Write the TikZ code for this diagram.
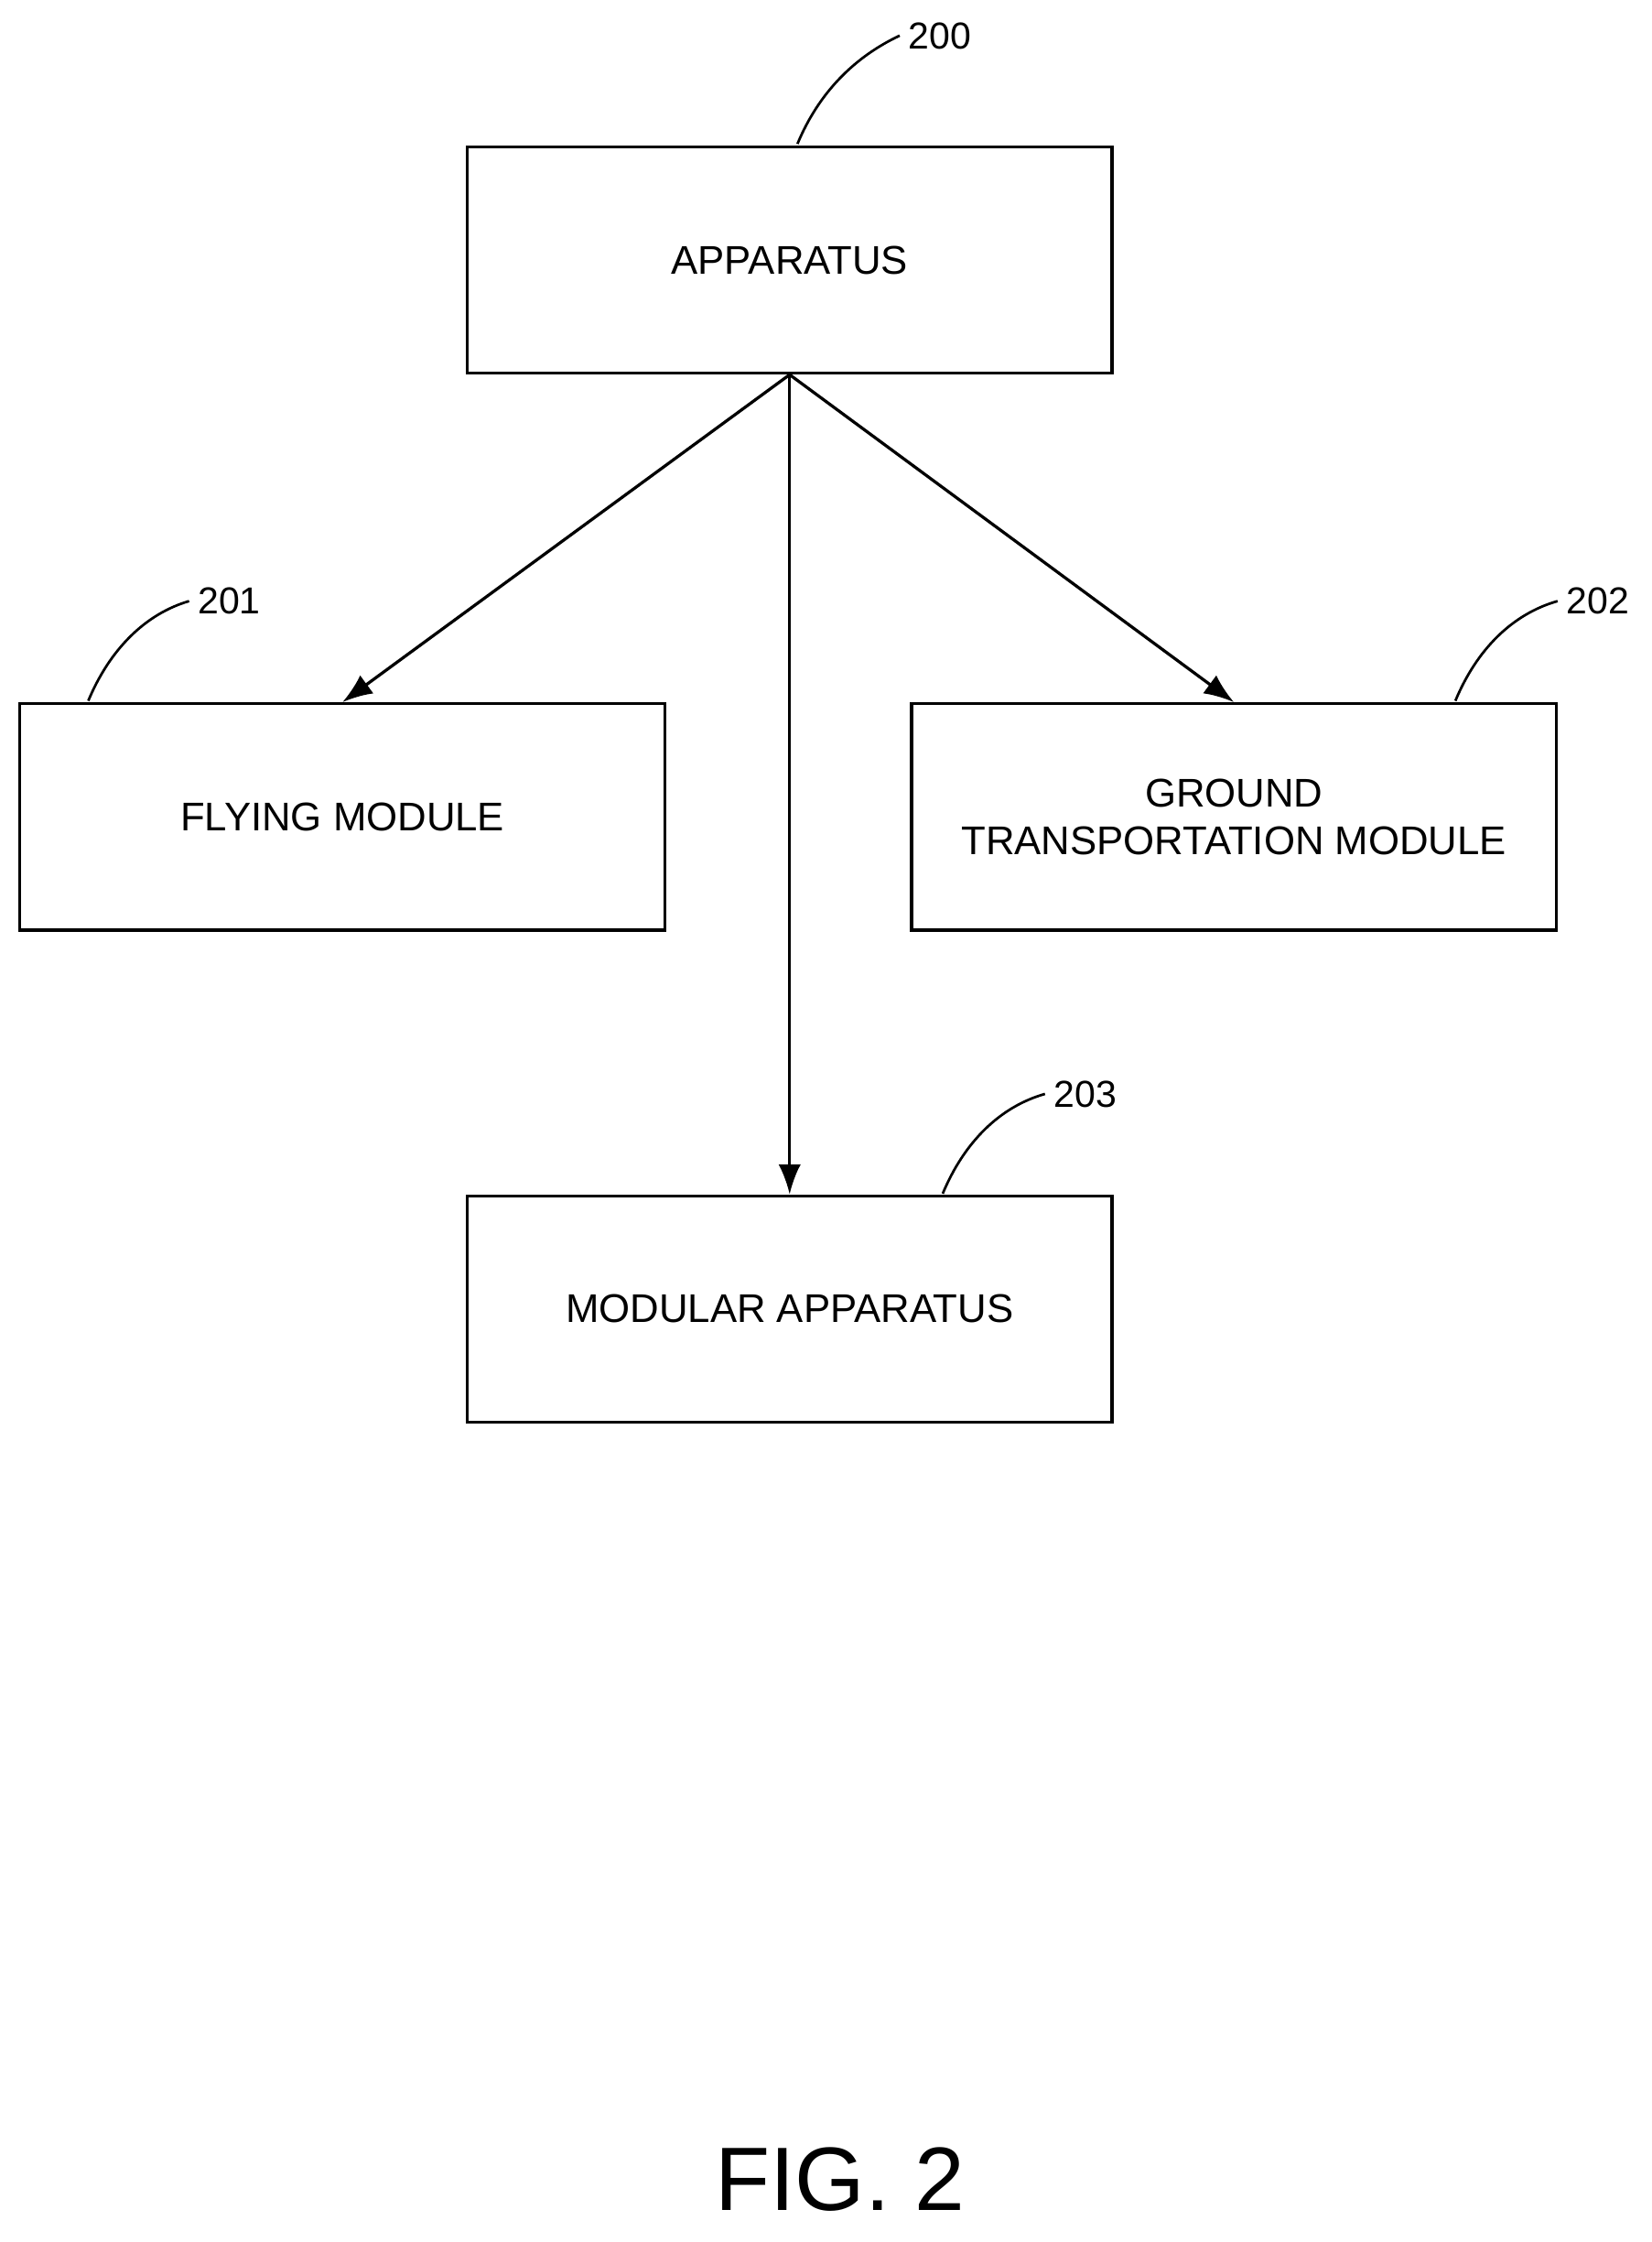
\documentclass[tikz,border=0pt]{standalone}
\usepackage{fontspec}
\setmainfont{Liberation Sans}
\begin{document}
\begin{tikzpicture}[x=0.02cm,y=-0.02cm,
  box/.style={draw,line width=1.2pt,minimum width=9.06cm,minimum height=3.18cm,align=center,font=\fontsize{16}{19}\selectfont,inner sep=0},
  arr/.style={line width=1.2pt,-{Latex[length=12pt,width=9pt]}},
  lead/.style={line width=1pt},
  lbl/.style={font=\fontsize{15}{18}\selectfont}]
\useasboundingbox (0,0) rectangle (1160,1574);
\usetikzlibrary{arrows.meta}
\node[box] (a) at (554.5,182.5) {APPARATUS};
\node[box] (f) at (240.5,573.5) {FLYING MODULE};
\node[box] (g) at (866.5,573.5) {GROUND\\TRANSPORTATION MODULE};
\node[box] (m) at (554.5,919) {MODULAR APPARATUS};
\draw[arr] (a.south) -- (f.north);
\draw[arr] (a.south) -- (g.north);
\draw[arr] (a.south) -- (m.north);
\node[lbl] (l0) at (660,25) {200};
\node[lbl] (l1) at (161,422) {201};
\node[lbl] (l2) at (1122,422) {202};
\node[lbl] (l3) at (762,768) {203};
\coordinate (c0) at (560,101); \coordinate (c1) at (62,492);
\coordinate (c2) at (1022,492); \coordinate (c3) at (662,838);
\draw[lead] (c0) .. controls (575,65) and (600,40) .. (l0.west);
\draw[lead] (c1) .. controls (77,456) and (102,431) .. (l1.west);
\draw[lead] (c2) .. controls (1037,456) and (1062,431) .. (l2.west);
\draw[lead] (c3) .. controls (677,802) and (702,777) .. (l3.west);
\node[font=\fontsize{36}{40}\selectfont] (fig) at (590,1530) {FIG. 2};
\end{tikzpicture}
\end{document}
